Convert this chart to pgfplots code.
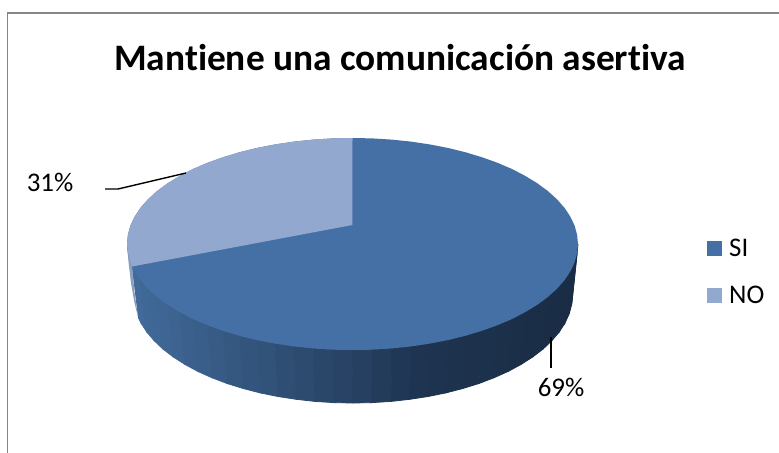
\documentclass[border=0pt]{standalone}
\usepackage{fontspec}
\setmainfont{Carlito}[Ligatures=NoCommon]
\usepackage{pgfplots}
\pgfplotsset{compat=1.18}
\definecolor{darkblue}{RGB}{69,112,165}
\definecolor{lightblue}{RGB}{147,168,207}
\definecolor{sliver}{RGB}{140,158,190}
\definecolor{framegray}{RGB}{134,134,134}
\begin{document}
\begin{tikzpicture}
\begin{axis}[
    scale only axis,
    width=779bp, height=453bp,
    xmin=0, xmax=779, ymin=0, ymax=453,
    y dir=reverse,
    hide axis,
    colormap={pieside}{rgb255(0pt)=(66,107,155); rgb255(178pt)=(44,74,110); rgb255(288pt)=(30,52,80); rgb255(446pt)=(26,44,68)},
    point meta min=132, point meta max=578,
    legend style={draw=none, fill=none, at={(axis cs:707,237)}, anchor=north west,
        font=\fontsize{27}{29}\selectfont, row sep=24bp, inner sep=0pt,
        /tikz/every odd column/.append style={column sep=5bp}},
    legend cell align=left,
    legend image code/.code={\fill[#1] (0bp,-7.5bp) rectangle (15bp,7.5bp);},
]
% page background, keeps the whole 779x453 in the picture
\addplot[draw=none, fill=white, forget plot] coordinates {(0,0) (779,0) (779,453) (0,453)} -- cycle;
% frame of the chart area
\addplot[framegray, line width=1.2bp, forget plot] coordinates {(7.5,453) (7.5,13) (779,13)};

% side of the pie, left to right along the front edge
\addplot[surf, shader=faceted, faceted color=mapped color, line width=0.8bp, mesh/rows=2, mesh/ordering=x varies, point meta=x, forget plot] table {
x y
132.2 266.5
134.7 271.4
140.6 280.3
148.1 288.8
157.2 297.0
167.8 304.8
179.8 312.1
193.0 319.0
207.5 325.2
223.2 330.8
239.7 335.8
257.2 340.1
275.4 343.6
294.1 346.4
313.4 348.4
332.8 349.6
352.5 350.0
372.2 349.6
391.6 348.4
410.9 346.4
429.6 343.6
447.8 340.1
465.3 335.8
481.8 330.8
497.5 325.2
512.0 319.0
525.2 312.1
537.2 304.8
547.8 297.0
556.9 288.8
564.4 280.3
570.3 271.4
574.6 262.4
577.1 253.2
578.0 244.0
138.5 318.0
141.0 323.0
146.7 331.9
154.1 340.6
162.9 349.0
173.2 356.9
184.9 364.4
197.8 371.4
211.9 377.7
227.1 383.5
243.2 388.5
260.2 392.9
277.9 396.5
296.2 399.3
314.9 401.4
333.9 402.6
353.0 403.0
372.1 402.6
391.1 401.4
409.8 399.3
428.1 396.5
445.8 392.9
462.8 388.5
478.9 383.5
494.1 377.7
508.2 371.4
521.1 364.4
532.8 356.9
543.1 349.0
551.9 340.6
559.3 331.9
565.0 323.0
569.2 313.8
571.7 304.4
572.5 295.0
};
\addplot[fill=sliver, draw=none, forget plot] coordinates {
    (127,245) (128.5,262) (131,283) (134.5,303) (138,317) (134.5,292) (132.2,266.5)} -- cycle;

% SI 69 %: the whole top, the NO slice goes over it
\addplot[fill=darkblue, draw=none] coordinates {
    (578.0,244.0) (577.1,234.8) (574.6,225.6) (570.3,216.6) (564.4,207.7) (556.9,199.2)
    (547.8,191.0) (537.2,183.2) (525.2,175.9) (512.0,169.0) (497.5,162.8) (481.8,157.2)
    (465.3,152.2) (447.8,147.9) (429.6,144.4) (410.9,141.6) (391.6,139.6) (372.2,138.4)
    (352.5,138.0) (332.8,138.4) (313.4,139.6) (294.1,141.6) (275.4,144.4) (257.2,147.9)
    (239.7,152.2) (223.2,157.2) (207.5,162.8) (193.0,169.0) (179.8,175.9) (167.8,183.2)
    (157.2,191.0) (148.1,199.2) (140.6,207.7) (134.7,216.6) (130.4,225.6) (127.9,234.8)
    (127.0,244.0) (127.9,253.2) (130.4,262.4) (134.7,271.4) (140.6,280.3) (148.1,288.8)
    (157.2,297.0) (167.8,304.8) (179.8,312.1) (193.0,319.0) (207.5,325.2) (223.2,330.8)
    (239.7,335.8) (257.2,340.1) (275.4,343.6) (294.1,346.4) (313.4,348.4) (332.8,349.6)
    (352.5,350.0) (372.2,349.6) (391.6,348.4) (410.9,346.4) (429.6,343.6) (447.8,340.1)
    (465.3,335.8) (481.8,330.8) (497.5,325.2) (512.0,319.0) (525.2,312.1) (537.2,304.8)
    (547.8,297.0) (556.9,288.8) (564.4,280.3) (570.3,271.4) (574.6,262.4) (577.1,253.2)} -- cycle;
\addlegendentry{SI}

% NO 31 %
\addplot[fill=lightblue, draw=none] coordinates {
    (352.3,225.0) (352.5,138.0) (332.8,138.4) (313.4,139.6) (294.1,141.6) (275.4,144.4) (257.2,147.9)
    (239.7,152.2) (223.2,157.2) (207.5,162.8) (193.0,169.0) (179.8,175.9) (167.8,183.2)
    (157.2,191.0) (148.1,199.2) (140.6,207.7) (134.7,216.6) (130.4,225.6) (127.9,234.8)
    (127.0,244.0) (127.9,253.2) (130.4,262.4) (132.2,266.5)} -- cycle;
\addlegendentry{NO}

% leader lines
\addplot[black, line width=1.4bp, forget plot] coordinates {(186,173) (118,189) (105,189)};
\addplot[black, line width=1.4bp, forget plot] coordinates {(551,337) (551,368)};

\node[font=\fontsize{27}{29}\selectfont] at (axis cs:50,182) {31\%};
\node[font=\fontsize{27}{29}\selectfont] at (axis cs:561,387) {69\%};
\node[font=\bfseries\fontsize{37.5}{40}\selectfont] at (axis cs:400,58) {Mantiene una comunicación asertiva};
\end{axis}
\end{tikzpicture}
\end{document}
